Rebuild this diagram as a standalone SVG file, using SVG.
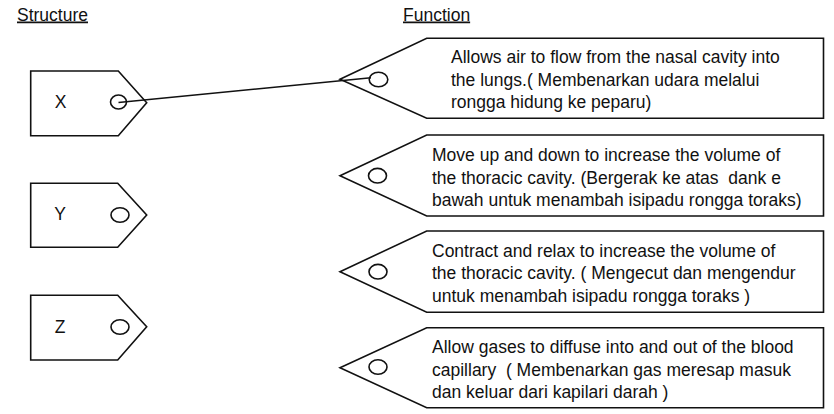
<svg xmlns="http://www.w3.org/2000/svg" width="834" height="414" viewBox="0 0 834 414">
<style>
.bg{fill:#ffffff}
.tag{fill:#ffffff;stroke:#111111;stroke-width:1.6;stroke-linejoin:miter}
.hole{fill:none;stroke:#111111;stroke-width:1.6}
.t{font-family:"Liberation Sans",Arial,sans-serif;font-size:17.5px;fill:#111111;white-space:pre}
.h{text-decoration:underline}
.lbl{text-anchor:middle}
.conn{stroke:#111111;stroke-width:1.6;fill:none}
</style>
<rect class="bg" x="0" y="0" width="834" height="414"/>
<g id="headers">
<text class="t h" x="17" y="20.5">Structure</text>
<text class="t h" x="403" y="20.5">Function</text>
</g>
<g id="X">
<path class="tag" d="M30.7,71 H118.3 L146.7,102.7 L118.3,135.7 H30.7 Z"/>
<ellipse class="hole" cx="118.5" cy="102" rx="8" ry="7"/>
<text class="t lbl" x="60.5" y="108">X</text>
</g>
<g id="Y">
<path class="tag" d="M30.7,183.3 H117.7 L146.7,215 L117.7,247.3 H30.7 Z"/>
<ellipse class="hole" cx="120" cy="215" rx="9" ry="7.3"/>
<text class="t lbl" x="60" y="220">Y</text>
</g>
<g id="Z">
<path class="tag" d="M30.7,295.3 H117.7 L146.7,326.7 L117.7,360 H30.7 Z"/>
<ellipse class="hole" cx="120" cy="327" rx="9" ry="7.3"/>
<text class="t lbl" x="60" y="332.7">Z</text>
</g>
<g id="F1">
<path class="tag" d="M340,79.3 L426.7,38.3 H823.5 V118.3 H426.7 Z"/>
<ellipse class="hole" cx="378.5" cy="79.5" rx="9.3" ry="7.3"/>
<text class="t" x="451" y="63">Allows air to flow from the nasal cavity into</text>
<text class="t" x="451" y="85.5">the lungs.( Membenarkan udara melalui</text>
<text class="t" x="451" y="108">rongga hidung ke peparu)</text>
</g>
<g id="F2">
<path class="tag" d="M340,175.7 L426.7,135 H823.5 V216 H426.7 Z"/>
<ellipse class="hole" cx="377.5" cy="175.7" rx="9" ry="7.3"/>
<text class="t" x="432" y="161">Move up and down to increase the volume of</text>
<text class="t" x="432" y="183.5">the thoracic cavity. (Bergerak ke atas  dank e</text>
<text class="t" x="432" y="206">bawah untuk menambah isipadu rongga toraks)</text>
</g>
<g id="F3">
<path class="tag" d="M340,271.7 L426.7,231 H823.5 V312.3 H426.7 Z"/>
<ellipse class="hole" cx="378" cy="271.7" rx="9" ry="7.3"/>
<text class="t" x="432" y="256.7">Contract and relax to increase the volume of</text>
<text class="t" x="432" y="279.2">the thoracic cavity. ( Mengecut dan mengendur</text>
<text class="t" x="432" y="301.7">untuk menambah isipadu rongga toraks )</text>
</g>
<g id="F4">
<path class="tag" d="M340,367.7 L426.7,327.7 H823.5 V407.7 H426.7 Z"/>
<ellipse class="hole" cx="378" cy="367" rx="9" ry="7.3"/>
<text class="t" x="432" y="353.3">Allow gases to diffuse into and out of the blood</text>
<text class="t" x="432" y="375.8">capillary  ( Membenarkan gas meresap masuk</text>
<text class="t" x="432" y="398.3">dan keluar dari kapilari darah )</text>
</g>
<g id="connectors">
<line class="conn" x1="118.5" y1="102.5" x2="371" y2="77.8"/>
</g>
</svg>
